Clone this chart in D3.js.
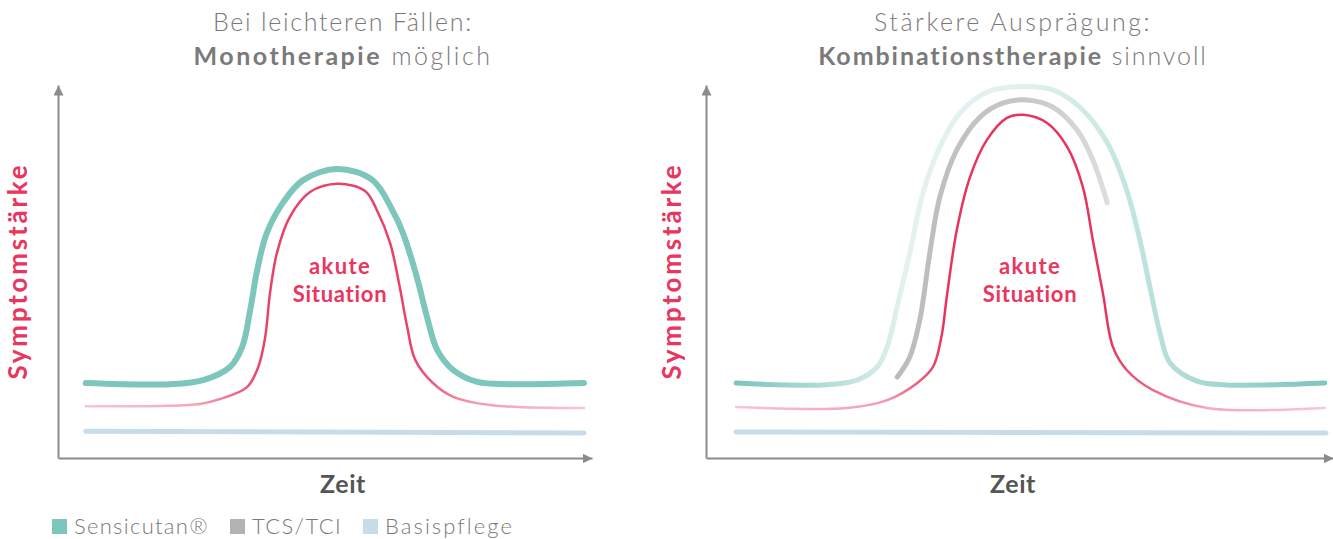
<!DOCTYPE html>
<html>
<head>
<meta charset="utf-8">
<script src="https://cdn.jsdelivr.net/npm/d3@7"></script>
<style>
  html, body { margin: 0; padding: 0; background: #fff; }
  svg { display: block; font-family: Lato, "Open Sans", sans-serif; }
</style>
</head>
<body>
<svg id="chart" width="1333" height="539"></svg>
<script>
// Panel titles (regular part, bold part, trailing regular part)
const panelTitles = [
  { line1: "Bei leichteren Fällen:", bold: "Monotherapie", rest: " möglich" },
  { line1: "Stärkere Ausprägung:", bold: "Kombinationstherapie", rest: " sinnvoll" }
];
const axisLabelX = "Zeit";
const axisLabelY = "Symptomstärke";
const acuteLabel = ["akute", "Situation"];
const legendItems = ["Sensicutan®", "TCS/TCI", "Basispflege"];

// Time (0–100) vs. symptom strength (0–100)
const monoSensicutan = [
  [5.2, 20.1], [21.0, 19.8], [27.2, 20.9], [32.2, 24.4], [34.5, 29.8], [36.0, 39.7],
  [37.3, 50.4], [39.1, 60.3], [42.1, 68.4], [45.9, 74.5], [52.4, 77.5], [58.9, 74.5],
  [62.6, 66.5], [64.6, 60.3], [67.2, 48.5], [69.1, 37.8], [71.0, 29.0], [74.0, 23.6],
  [78.5, 20.4], [84.6, 19.8], [98.5, 20.1]
];
const monoAcute = [
  [5.2, 13.9], [26.6, 14.5], [30.3, 15.8], [35.4, 19.0], [37.5, 24.4], [38.8, 32.4],
  [39.7, 44.2], [41.0, 55.0], [43.4, 64.6], [47.2, 71.3], [52.4, 73.5], [57.5, 71.6],
  [59.7, 66.5], [62.2, 57.6], [64.0, 45.8], [65.4, 35.1], [66.9, 26.3], [70.2, 20.1],
  [74.0, 16.4], [80.9, 14.2], [98.5, 13.4]
];
const monoBasis = [[5.2, 7.2], [98.5, 6.7]];

const comboSensicutan = [
  [4.8, 20.1], [18.7, 19.6], [24.1, 20.9], [27.3, 24.4], [28.9, 29.8], [30.5, 40.5],
  [32.5, 55.0], [34.6, 71.0], [37.3, 83.4], [40.5, 92.5], [44.8, 98.1], [50.1, 99.6],
  [55.3, 98.7], [59.6, 94.1], [64.0, 84.5], [67.1, 71.8], [69.2, 58.4], [70.8, 45.8],
  [72.4, 33.5], [74.0, 25.5], [78.3, 20.6], [83.1, 19.6], [98.7, 20.1]
];
const comboTcs = [
  [30.5, 21.7], [32.5, 27.1], [34.1, 37.0], [35.7, 55.0], [37.3, 70.0], [40.0, 82.6],
  [43.7, 91.4], [47.4, 95.2], [51.2, 96.0], [55.3, 94.1], [59.2, 87.9], [61.7, 79.9],
  [64.0, 68.4]
];
const comboAcute = [
  [4.8, 13.7], [22.5, 13.4], [28.9, 15.5], [33.7, 20.1], [36.2, 24.4], [37.6, 33.0],
  [38.4, 43.2], [40.0, 61.1], [42.1, 75.3], [44.8, 85.3], [48.0, 91.2], [50.6, 92.0],
  [54.4, 89.8], [57.6, 83.4], [60.1, 72.7], [61.7, 58.4], [63.3, 44.2], [64.9, 29.8],
  [67.1, 23.6], [71.3, 18.2], [79.9, 13.4], [98.7, 13.4]
];
const comboBasis = [[4.8, 7.0], [98.9, 6.7]];

const colors = {
  teal: "#7cc6bb", gray: "#bdbdbd", blue: "#c6dde8",
  red: "#e8365f", text: "#7a7a7a", axis: "#8c8c8c", zeit: "#555555"
};

const svg = d3.select("#chart");
const defs = svg.append("defs");

// Spread a text's letters so that it spans the given width
function spread(sel, width) {
  const node = sel.node();
  const n = sel.text().length;
  const len = node.getComputedTextLength();
  if (n > 1) sel.attr("letter-spacing", (width - len) / n);
  return sel;
}

defs.append("marker")
  .attr("id", "arrow")
  .attr("viewBox", "0 0 10 10")
  .attr("refX", 10).attr("refY", 5)
  .attr("markerWidth", 10).attr("markerHeight", 10)
  .attr("markerUnits", "userSpaceOnUse")
  .attr("orient", "auto")
  .append("path").attr("d", "M0,0 L10,5 L0,10 Z").attr("fill", colors.axis);

function gradient(id, x, stops) {
  const g = defs.append("linearGradient")
    .attr("id", id)
    .attr("gradientUnits", "userSpaceOnUse")
    .attr("x1", x(0)).attr("x2", x(100)).attr("y1", 0).attr("y2", 0);
  stops.forEach(([t, c]) => g.append("stop").attr("offset", t / 100).attr("stop-color", c));
  return `url(#${id})`;
}

const line = (x, y) => d3.line()
  .x(d => x(d[0])).y(d => y(d[1]))
  .curve(d3.curveCatmullRom.alpha(0.5));

const panels = [
  { left: 58, right: 592, titleX: 343, labelX: 18, acuteX: 340, w1: 260, w2: 299 },
  { left: 706, right: 1333, titleX: 1013, labelX: 672, acuteX: 1030, w1: 278, w2: 390 }
];

panels.forEach((p, i) => {
  const x = d3.scaleLinear().domain([0, 100]).range([p.left, p.right]);
  const y = d3.scaleLinear().domain([0, 100]).range([458, 85]);
  const g = svg.append("g");

  // axes with arrowheads
  const ax = g.append("g").attr("transform", "translate(0,458)")
    .call(d3.axisBottom(x).ticks(0).tickSizeOuter(0));
  const ay = g.append("g").attr("transform", `translate(${p.left},0)`)
    .call(d3.axisLeft(y).ticks(0).tickSizeOuter(0));
  [ax, ay].forEach(a => {
    a.selectAll(".tick").remove();
    a.select(".domain").attr("stroke", colors.axis).attr("stroke-width", 2)
      .attr("marker-end", "url(#arrow)");
  });

  // titles
  const t1 = g.append("text").attr("text-anchor", "middle").attr("fill", colors.text)
    .attr("font-size", 25).attr("font-weight", 300).attr("x", p.titleX).attr("y", 31)
    .text(panelTitles[i].line1);
  spread(t1, p.w1);
  const t2 = g.append("text").attr("text-anchor", "middle").attr("fill", colors.text)
    .attr("font-size", 25).attr("x", p.titleX).attr("y", 65);
  t2.append("tspan").attr("font-weight", 700).text(panelTitles[i].bold);
  t2.append("tspan").attr("font-weight", 300).text(panelTitles[i].rest);
  spread(t2, p.w2);

  // axis labels
  spread(g.append("text").attr("x", p.titleX).attr("y", 493).attr("text-anchor", "middle")
    .attr("font-size", 25).attr("font-weight", 700).attr("fill", colors.zeit).text(axisLabelX), 46);
  spread(g.append("text").attr("transform", `translate(${p.labelX + 9},271) rotate(-90)`)
    .attr("text-anchor", "middle").attr("font-size", 26).attr("font-weight", 700)
    .attr("fill", colors.red).text(axisLabelY), 217);

  // acute situation label
  const acuteW = [62, 95];
  acuteLabel.forEach((s, k) => {
    spread(g.append("text").attr("x", p.acuteX).attr("y", 274 + k * 28).attr("text-anchor", "middle")
      .attr("font-size", 22).attr("font-weight", 700).attr("fill", colors.red).text(s), acuteW[k]);
  });

  const L = line(x, y);
  if (i === 0) {
    const pink = gradient("pinkMono", x, [[5, "#f8c6d0"], [25, "#f5a9ba"], [38, "#e8426a"],
      [66, "#e8426a"], [78, "#f29bb0"], [98, "#f8c6d0"]]);
    g.append("path").datum(monoBasis).attr("d", L).attr("fill", "none")
      .attr("stroke", colors.blue).attr("stroke-width", 5).attr("stroke-linecap", "round");
    g.append("path").datum(monoAcute).attr("d", L).attr("fill", "none")
      .attr("stroke", pink).attr("stroke-width", 2.5).attr("stroke-linecap", "round");
    g.append("path").datum(monoSensicutan).attr("d", L).attr("fill", "none")
      .attr("stroke", colors.teal).attr("stroke-width", 6).attr("stroke-linecap", "round");
  } else {
    const pink = gradient("pinkCombo", x, [[5, "#f9c6d1"], [28, "#f39db0"], [38, "#e8335c"],
      [64, "#e8335c"], [80, "#f5a9ba"], [99, "#f9c8d2"]]);
    const teal = gradient("tealCombo", x, [[5, "#7dc6ba"], [22, "#bde2dc"], [32, "#e3f2f0"],
      [50, "#e1f1ef"], [64, "#c9e8e3"], [78, "#abdbd4"], [99, "#7dc6ba"]]);
    const gray = gradient("grayCombo", x, [[30, "#bbbbbb"], [50, "#c6c6c6"], [64, "#dddddd"]]);
    g.append("path").datum(comboBasis).attr("d", L).attr("fill", "none")
      .attr("stroke", colors.blue).attr("stroke-width", 5).attr("stroke-linecap", "round");
    g.append("path").datum(comboAcute).attr("d", L).attr("fill", "none")
      .attr("stroke", pink).attr("stroke-width", 2.5).attr("stroke-linecap", "round");
    g.append("path").datum(comboSensicutan).attr("d", L).attr("fill", "none")
      .attr("stroke", teal).attr("stroke-width", 5).attr("stroke-linecap", "round");
    g.append("path").datum(comboTcs).attr("d", L).attr("fill", "none")
      .attr("stroke", gray).attr("stroke-width", 5).attr("stroke-linecap", "round");
  }
});

// legend
const legendColors = [colors.teal, "#b3b3b3", colors.blue];
const legendX = [52, 230, 363];
const legendW = [135, 90, 129];
legendItems.forEach((name, i) => {
  svg.append("rect").attr("x", legendX[i]).attr("y", 519).attr("width", 15).attr("height", 15)
    .attr("fill", legendColors[i]);
  spread(svg.append("text").attr("x", legendX[i] + 22).attr("y", 534).attr("font-size", 22)
    .attr("font-weight", 300).attr("fill", colors.text).text(name), legendW[i]);
});
</script>
</body>
</html>
